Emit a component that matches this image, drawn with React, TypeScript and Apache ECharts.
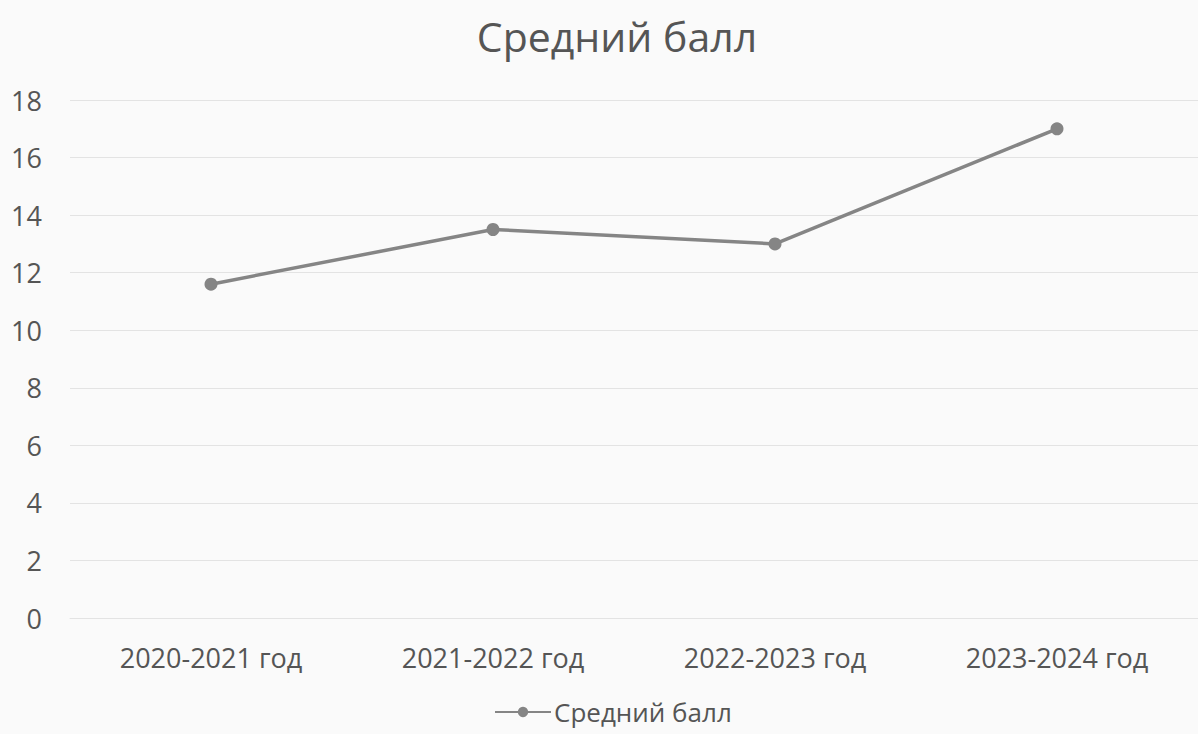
import React, { useEffect, useRef } from "react";
import * as echarts from "echarts";

const categories = ["2020-2021 год", "2021-2022 год", "2022-2023 год", "2023-2024 год"];
const avgScore = [11.6, 13.5, 13.0, 17.0];
const seriesName = "Средний балл";
const titleText = "Средний балл";

export default function App() {
  const ref = useRef<HTMLDivElement>(null);
  useEffect(() => {
    if (!ref.current) return;
    const chart = echarts.init(ref.current, null, { renderer: "svg" });
    const font = "'Open Sans', 'Noto Sans', sans-serif";
    chart.setOption({
      animation: false,
      backgroundColor: "#fafafa",
      textStyle: { fontFamily: font },
      title: {
        text: titleText,
        left: 612,
        textAlign: "center",
        top: 10,
        textStyle: { fontFamily: font, fontSize: 41, fontWeight: "normal", color: "#555555" },
      },
      legend: {
        top: 697,
        left: 494,
        padding: 0,
        data: [seriesName],
        itemWidth: 56,
        itemHeight: 13,
        itemGap: 4,
        textStyle: { fontFamily: font, fontSize: 26, lineHeight: 30, color: "#555555", padding: [0, 0, 0, -2] },
      },
      grid: { left: 70, top: 100, width: 1136, height: 518, containLabel: false },
      xAxis: {
        type: "category",
        data: categories,
        boundaryGap: true,
        axisLine: { show: true, lineStyle: { color: "#e3e3e3", width: 1 } },
        axisTick: { show: false },
        axisLabel: { fontFamily: font, fontSize: 27, color: "#555555", margin: 26 },
      },
      yAxis: {
        type: "value",
        min: 0,
        max: 18,
        interval: 2,
        axisLine: { show: false },
        axisTick: { show: false },
        splitLine: { lineStyle: { color: "#e3e3e3", width: 1 } },
        axisLabel: { fontFamily: font, fontSize: 27, color: "#555555", margin: 28 },
      },
      series: [
        {
          name: seriesName,
          type: "line",
          data: avgScore,
          symbol: "circle",
          symbolSize: 13,
          lineStyle: { color: "#858585", width: 3.5 },
          itemStyle: { color: "#858585" },
        },
      ],
    });
    return () => chart.dispose();
  }, []);
  return (
    <div
      ref={ref}
      style={{ position: "fixed", left: 0, top: 0, width: 1198, height: 734 }}
    />
  );
}
